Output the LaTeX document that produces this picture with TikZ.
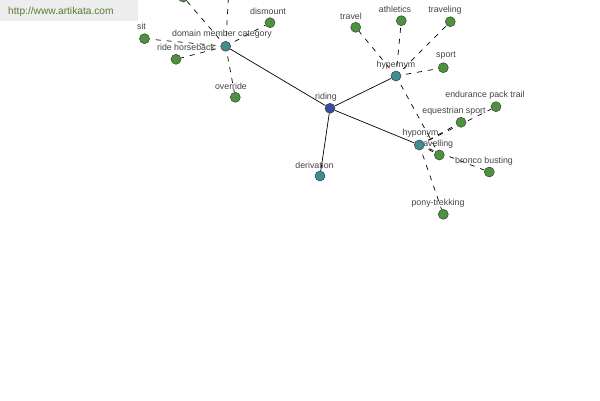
\documentclass[tikz,border=0pt]{standalone}
\usepackage{fontspec}
\setmainfont{Liberation Sans}
\definecolor{rootblue}{HTML}{3A4AA0}
\definecolor{relteal}{HTML}{3D8E90}
\definecolor{leafgreen}{HTML}{4B933C}
\definecolor{labelgray}{HTML}{444444}
\definecolor{wmbg}{HTML}{EDEDED}
\definecolor{wmtext}{HTML}{5A7A32}
\pgfdeclarelayer{bgpaper}
\pgfdeclarelayer{edges}
\pgfsetlayers{bgpaper,edges,main}
\tikzset{
  vtx/.style={circle, inner sep=0pt, minimum size=10pt, draw=black!75, line width=0.5pt},
  rootv/.style={vtx, fill=rootblue},
  relv/.style={vtx, fill=relteal},
  leafv/.style={vtx, fill=leafgreen},
  lbl/.style={font=\fontsize{8.8}{10}\selectfont, text=labelgray, inner sep=0pt},
  solidedge/.style={draw=black, line width=0.7pt},
  dashedge/.style={draw=black, line width=0.7pt, dash pattern=on 5pt off 6pt, dash phase=6pt},
}
\begin{document}
\begin{tikzpicture}[x=1pt,y=-1pt]
\useasboundingbox (0,0) rectangle (600,400);
\clip (0,0) rectangle (600,400);
\begin{pgfonlayer}{bgpaper}
\fill[white] (0,0) rectangle (600,400);
\end{pgfonlayer}
% watermark
\node[fill=wmbg, minimum width=138pt, minimum height=21pt, inner sep=0pt, anchor=north west] (wmbox) at (0,0) {};
\node[font=\fontsize{10.2}{12}\selectfont, text=wmtext, anchor=west, inner sep=0pt] (wm) at (8,11.5) {http://www.artikata.com};
% labels
\node[lbl] (l-riding) at (326,97) {riding};
\node[lbl] (l-hyper) at (396,65) {hypernym};
\node[lbl] (l-travel) at (351,16) {travel};
\node[lbl] (l-athl) at (395,9) {athletics};
\node[lbl] (l-traveling) at (445,10) {traveling};
\node[lbl] (l-sport) at (446,56) {sport};
\node[lbl] (l-endur) at (485,95) {endurance pack trail};
\node[lbl] (l-eqsport) at (454,111) {equestrian sport};
\node[lbl] (l-travelling) at (435.5,144) {travelling};
\node[lbl] (l-hypo) at (420.5,133.5) {hyponym};
\node[lbl] (l-bronco) at (484,161) {bronco busting};
\node[lbl] (l-pony) at (438,203) {pony-trekking};
\node[lbl] (l-deriv) at (314.5,165) {derivation};
\node[lbl] (l-dmc) at (222,34.5) {domain member category};
\node[lbl] (l-dismount) at (268,11) {dismount};
\node[lbl] (l-sit) at (141.5,26.5) {sit};
\node[lbl] (l-ridehb) at (186,47.5) {ride horseback};
\node[lbl] (l-override) at (231,86) {override};
% nodes
\node[leafv] (travelling) at (439.3,155) {};
\node[rootv] (riding) at (330,108.3) {};
\node[relv] (hyper) at (396,76) {};
\node[relv] (hypo) at (419.3,145) {};
\node[relv] (deriv) at (320,176) {};
\node[relv] (dmc) at (225.7,46.3) {};
\node[leafv] (travel) at (355.7,27.3) {};
\node[leafv] (athl) at (401.3,20.7) {};
\node[leafv] (traveling) at (450.3,21.7) {};
\node[leafv] (sport) at (443.3,67.7) {};
\node[leafv] (endur) at (496,106.7) {};
\node[leafv] (eqsport) at (461,122.3) {};
\node[leafv] (bronco) at (489.3,172) {};
\node[leafv] (pony) at (443.3,214.3) {};
\node[leafv] (dismount) at (270,22.7) {};
\node[leafv] (sit) at (144.5,38.7) {};
\node[leafv] (ridehb) at (176,59.3) {};
\node[leafv] (override) at (235.3,97.3) {};
\node[leafv] (topleft) at (183.3,-3) {};
\coordinate (topoff) at (231,-50);
% edges
\begin{pgfonlayer}{edges}
\draw[solidedge] (riding) -- (hyper);
\draw[solidedge] (riding) -- (hypo);
\draw[solidedge] (riding) -- (deriv);
\draw[solidedge] (riding) -- (dmc);
\draw[dashedge] (hyper) -- (travel);
\draw[dashedge] (hyper) -- (athl);
\draw[dashedge] (hyper) -- (traveling);
\draw[dashedge] (hyper) -- (sport);
\draw[dashedge] (hyper) -- (travelling);
\draw[dashedge] (hypo) -- (endur);
\draw[dashedge] (hypo) -- (eqsport);
\draw[dashedge] (hypo) -- (travelling);
\draw[dashedge] (hypo) -- (bronco);
\draw[dashedge] (hypo) -- (pony);
\draw[dashedge] (dmc) -- (sit);
\draw[dashedge] (dmc) -- (ridehb);
\draw[dashedge] (dmc) -- (dismount);
\draw[dashedge] (dmc) -- (override);
\draw[dashedge] (dmc) -- (topleft);
\draw[dashedge] (dmc) -- (topoff);
\end{pgfonlayer}
\end{tikzpicture}
\end{document}
